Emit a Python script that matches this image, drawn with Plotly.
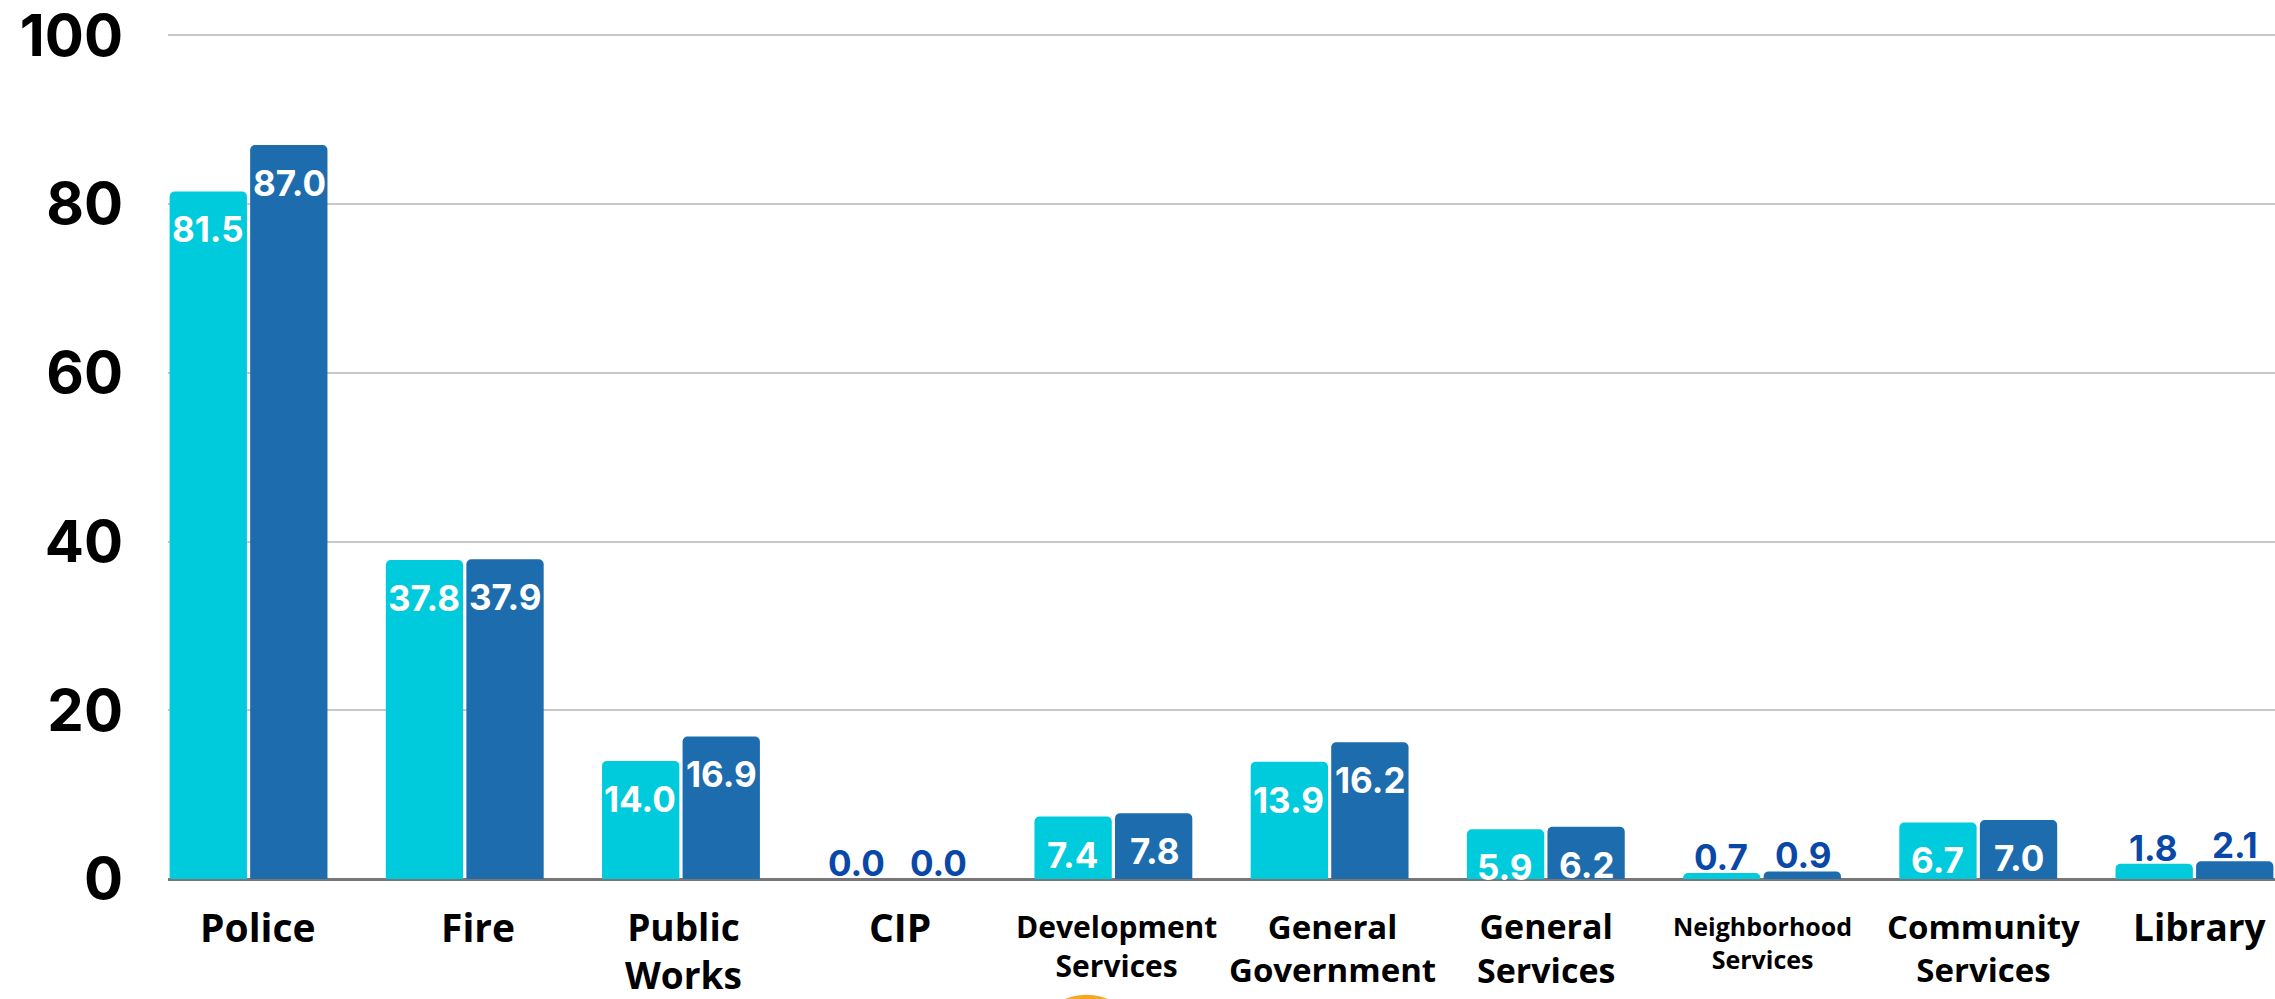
import plotly.graph_objects as go

# Donnees
departments = [
    "Police", "Fire", "Public<br>Works", "CIP", "Development<br>Services",
    "General<br>Government", "General<br>Services", "Neighborhood<br>Services",
    "Community<br>Services", "Library",
]
values_a = [81.5, 37.8, 14.0, 0.0, 7.4, 13.9, 5.9, 0.7, 6.7, 1.8]
values_b = [87.0, 37.9, 16.9, 0.0, 7.8, 16.2, 6.2, 0.9, 7.0, 2.1]
y_ticks = [0, 20, 40, 60, 80, 100]

C_CYAN = "#00CBDC"
C_BLUE = "#1D6CAE"
C_OUT_TEXT = "#0A48A8"
LABEL_FONT = "Inter"
INSIDE_MIN = 4.0  # en dessous, l'etiquette passe au-dessus de la barre

# style des libelles (chaque libelle a sa propre taille / un leger decalage dans l'original)
CAT_SIZES = [39, 39, 37, 39, 30, 33, 34, 25, 33, 37]
CAT_XSHIFT = [9, 13, 3, 3, 3, 3, 0, 0, 5, 6]
CAT_LINE1_OFFSET = 44  # px entre la ligne de base et le centre de la 1re ligne

fig = go.Figure()
for vals, color in [(values_a, C_CYAN), (values_b, C_BLUE)]:
    fig.add_trace(
        go.Bar(
            x=departments,
            y=vals,
            marker=dict(color=color, line=dict(width=0)),
            showlegend=False,
            hoverinfo="skip",
        )
    )

# etiquettes de valeurs
for vals, shift in [(values_a, -41), (values_b, 41)]:
    for cat, v in zip(departments, vals):
        inside = v >= INSIDE_MIN
        fig.add_annotation(
            x=cat,
            y=v,
            text=f"{v:.1f}",
            showarrow=False,
            xshift=shift,
            yshift=-38 if inside else 16,
            yanchor="middle",
            font=dict(
                family=LABEL_FONT,
                size=35,
                weight="bold",
                color="white" if inside else C_OUT_TEXT,
            ),
        )

# libelles des categories (annotations pour garder un interligne propre a chacun)
for cat, s, dx in zip(departments, CAT_SIZES, CAT_XSHIFT):
    fig.add_annotation(
        x=cat,
        y=0,
        text=cat,
        showarrow=False,
        yanchor="top",
        xshift=dx,
        yshift=-(CAT_LINE1_OFFSET - 0.65 * s),
        font=dict(family="Open Sans", size=s, weight="bold", color="black"),
    )

# petit arc orange en bas de l'image (deco presente dans l'original)
fig.add_shape(
    type="circle",
    xref="paper",
    yref="paper",
    x0=0.4186,
    x1=0.4532,
    y0=-0.19,
    y1=-0.1366,
    fillcolor="#F5A623",
    line=dict(width=0),
    layer="above",
)

fig.update_layout(
    width=2275,
    height=999,
    margin=dict(l=168, r=0, t=30, b=120),
    paper_bgcolor="white",
    plot_bgcolor="white",
    barmode="group",
    bargap=0.255,
    bargroupgap=0.04,
    barcornerradius=5,
)
fig.update_xaxes(
    range=[-0.3725, 9.3725],
    showticklabels=False,
    ticks="",
    showgrid=False,
    showline=False,
)
fig.update_yaxes(
    range=[0, 100.4],
    tickvals=y_ticks,
    tickfont=dict(family=LABEL_FONT, size=58, weight="bold", color="black"),
    ticklabelstandoff=44,
    ticklabeloverflow="allow",
    showgrid=True,
    gridcolor="#C8C8C8",
    gridwidth=1.5,
    zeroline=True,
    zerolinecolor="#777777",
    zerolinewidth=2.5,
)

fig.write_html(
    "out.html",
    config={"displayModeBar": False},
    post_script="document.body.style.margin='0';",
)
